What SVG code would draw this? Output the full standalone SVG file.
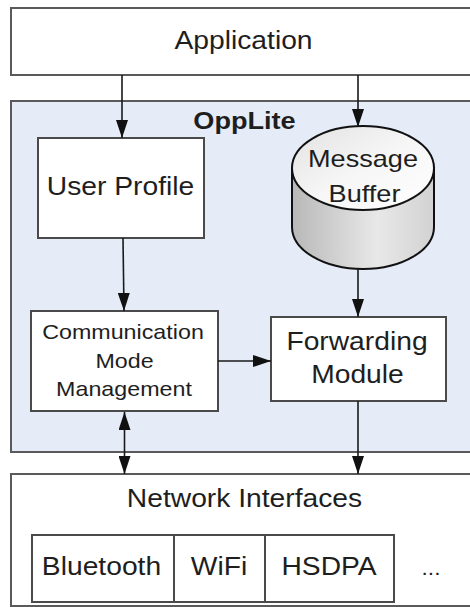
<svg xmlns="http://www.w3.org/2000/svg" width="470" height="607" viewBox="0 0 470 607">
<defs>
<style>
.box{fill:#ffffff;stroke:#4a4a4a;stroke-width:2}
.outer{stroke:#5a5a5a;stroke-width:2}
.t{font-family:"Liberation Sans",Arial,sans-serif;fill:#1e1e1e;text-anchor:middle}
.big{font-size:25px}
.small{font-size:20.6px}
.conn{stroke:#1a1a1a;stroke-width:1.6;fill:none}
</style>
<marker id="ah" viewBox="0 0 18 12" refX="18" refY="6" markerWidth="18" markerHeight="12" markerUnits="userSpaceOnUse" orient="auto-start-reverse">
<path d="M0,0 L18,6 L0,12 Z" fill="#111"/>
</marker>
<linearGradient id="body" x1="0" y1="0" x2="1" y2="0">
<stop offset="0" stop-color="#b8b8b8"/>
<stop offset="0.6" stop-color="#e8e8e8"/>
<stop offset="1" stop-color="#d2d2d2"/>
</linearGradient>
<linearGradient id="top" x1="0" y1="0" x2="1" y2="1">
<stop offset="0" stop-color="#e2e2e2"/>
<stop offset="0.5" stop-color="#f6f6f6"/>
<stop offset="1" stop-color="#ffffff"/>
</linearGradient>
</defs>
<rect width="470" height="607" fill="#ffffff"/>

<g id="application">
<rect class="box outer" x="11" y="8" width="470" height="67"/>
<text class="t big" transform="translate(243.5,49) scale(1.13,1)">Application</text>
</g>

<g id="opplite">
<rect class="outer" x="11" y="101" width="470" height="351" fill="#e5ecf7"/>
<text class="t" font-size="24" font-weight="bold" transform="translate(244.5,129) scale(1.13,1)">OppLite</text>
</g>

<g id="user-profile">
<rect class="box" x="38" y="138" width="166" height="100"/>
<text class="t big" transform="translate(120.5,195) scale(1.13,1)">User Profile</text>
</g>

<g id="message-buffer">
<path d="M292,168 L292,227 A71,42 0 0 0 434,227 L434,168 Z" fill="url(#body)" stroke="#111" stroke-width="2"/>
<ellipse cx="363" cy="168" rx="71" ry="42" fill="url(#top)" stroke="#111" stroke-width="2"/>
<text class="t" font-size="24" transform="translate(363,167) scale(1.13,1)">Message</text>
<text class="t" font-size="24" transform="translate(364.5,202) scale(1.13,1)">Buffer</text>
</g>

<g id="comm-mode">
<rect class="box" x="31" y="311" width="187" height="100"/>
<text class="t small" transform="translate(123,339) scale(1.13,1)">Communication</text>
<text class="t small" transform="translate(124.5,368) scale(1.13,1)">Mode</text>
<text class="t small" transform="translate(124,396) scale(1.13,1)">Management</text>
</g>

<g id="forwarding">
<rect class="box" x="271" y="317" width="175" height="84"/>
<text class="t big" transform="translate(357,350) scale(1.13,1)">Forwarding</text>
<text class="t big" transform="translate(357.5,383) scale(1.13,1)">Module</text>
</g>

<g id="network-interfaces">
<rect class="box outer" x="11" y="474" width="470" height="132"/>
<text class="t big" transform="translate(244.5,507) scale(1.13,1)">Network Interfaces</text>
</g>

<g id="bluetooth">
<rect class="box" x="32" y="535" width="142" height="67"/>
<text class="t big" transform="translate(101.5,575) scale(1.13,1)">Bluetooth</text>
</g>
<g id="wifi">
<rect class="box" x="174" y="535" width="91" height="67"/>
<text class="t big" transform="translate(219,575) scale(1.13,1)">WiFi</text>
</g>
<g id="hsdpa">
<rect class="box" x="265" y="535" width="129" height="67"/>
<text class="t big" transform="translate(329,575) scale(1.13,1)">HSDPA</text>
</g>
<g id="more">
<text class="t" font-size="20" fill="#444" transform="translate(431,575) scale(1.13,1)">...</text>
</g>

<g id="connectors">
<line class="conn" x1="122" y1="75" x2="122" y2="138" marker-end="url(#ah)"/>
<line class="conn" x1="358" y1="75" x2="358" y2="127" marker-end="url(#ah)"/>
<line class="conn" x1="123" y1="238" x2="124" y2="311" marker-end="url(#ah)"/>
<line class="conn" x1="358" y1="269" x2="358" y2="317" marker-end="url(#ah)"/>
<line class="conn" x1="218" y1="361" x2="271" y2="361" marker-end="url(#ah)"/>
<line class="conn" x1="124.5" y1="412" x2="124.5" y2="474" marker-start="url(#ah)" marker-end="url(#ah)"/>
<line class="conn" x1="358" y1="401" x2="358" y2="474" marker-end="url(#ah)"/>
</g>
</svg>
